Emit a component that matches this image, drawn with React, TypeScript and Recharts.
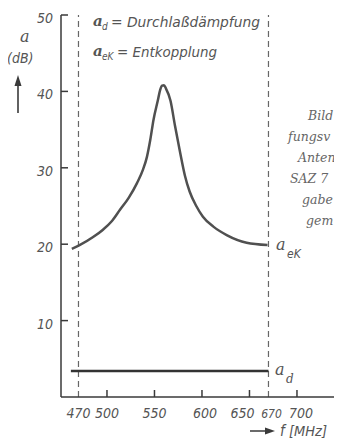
import React from 'react';
import { LineChart, Line, XAxis, YAxis, ReferenceLine } from 'recharts';

// Entkopplung a_eK (dB) over frequency (MHz)
const ekFreq = [463, 471.6, 485, 495.8, 505, 513.7, 523, 531.6, 538, 542, 545.5, 549, 553.5, 556, 558, 560, 562, 566.8, 571.6, 577, 582, 587, 594, 601, 612, 626, 647, 669];
const ekValue = [19.4, 19.9, 20.9, 21.9, 23.0, 24.5, 26.1, 28.0, 29.8, 31.4, 33.6, 36.3, 38.8, 40.2, 40.75, 40.8, 40.4, 38.8, 35.5, 32.0, 29.0, 26.9, 25.0, 23.6, 22.3, 21.2, 20.2, 19.9];

// Durchlaßdämpfung a_d
const dFreq = [462, 670];
const dValue = [3.4, 3.4];

const xTicks = [470, 500, 550, 600, 650, 670, 700];
const yTicks = [10, 20, 30, 40, 50];
const bandEdges = [470, 670];
const xDomain = [451.6, 747.4];
const yDomain = [0, 50];

const captionLines = ['Bild', 'fungsv', 'Anten', 'SAZ 7', 'gabe', 'gem'];

const ekData = ekFreq.map((f, i) => ({ f, v: ekValue[i] }));
const dData = dFreq.map((f, i) => ({ f, v: dValue[i] }));

const SANS = "'DejaVu Sans Condensed','Liberation Sans Narrow','DejaVu Sans',sans-serif";
const SERIF = "'DejaVu Serif','Liberation Serif',serif";
const INK = '#3a3a3a';
const TXT = '#555';

const XTick = (props: any) => {
  const { x, y, payload } = props;
  const v = payload.value;
  const noMark = v === 470 || v === 670;
  const dx = v === 650 ? -7 : v === 700 ? 4 : v === 670 ? 3 : v === 600 ? 3 : 0;
  return (
    <g>
      {!noMark && <line x1={x} x2={x} y1={y} y2={y - 7} stroke={INK} strokeWidth={1.5} />}
      <text
        x={x + dx}
        y={y + 21}
        textAnchor="middle"
        fontFamily={SANS}
        fontStyle="italic"
        fontSize={v === 670 ? 12 : 14}
        fill={TXT}
      >
        {v}
      </text>
    </g>
  );
};

const YTick = (props: any) => {
  const { x, y, payload } = props;
  return (
    <g>
      <line x1={x} x2={x + 7} y1={y} y2={y} stroke={INK} strokeWidth={1.5} />
      <text x={x - 8} y={y + 8} textAnchor="end" fontFamily={SANS} fontStyle="italic" fontSize={14} fill={TXT}>
        {payload.value}
      </text>
    </g>
  );
};

const captionX = [308, 288, 298, 290, 302, 306];

export default function App() {
  return (
    <div style={{ position: 'relative', width: 342, height: 446, margin: -8, background: '#fff', overflow: 'hidden' }}>
      <LineChart width={342} height={446} margin={{ top: 15, right: 0, bottom: 0, left: 0 }}>
        <XAxis
          type="number"
          dataKey="f"
          domain={xDomain}
          allowDataOverflow
          ticks={xTicks}
          interval={0}
          height={49}
          tickSize={0}
          tickMargin={0}
          tickLine={false}
          axisLine={{ stroke: INK, strokeWidth: 1.5 }}
          tick={<XTick />}
        />
        <YAxis
          type="number"
          domain={yDomain}
          ticks={yTicks}
          interval={0}
          width={61}
          tickSize={0}
          tickMargin={0}
          tickLine={false}
          axisLine={{ stroke: INK, strokeWidth: 1.5 }}
          tick={<YTick />}
        />
        {bandEdges.map((e) => (
          <ReferenceLine key={e} x={e} stroke="#666" strokeWidth={1.2} strokeDasharray="6 4" />
        ))}
        <Line
          data={ekData}
          dataKey="v"
          type="monotone"
          stroke="#505050"
          strokeWidth={2.5}
          dot={false}
          isAnimationActive={false}
        />
        <Line
          data={dData}
          dataKey="v"
          type="linear"
          stroke="#333"
          strokeWidth={2.5}
          dot={false}
          isAnimationActive={false}
        />
      </LineChart>
      <svg width={342} height={446} style={{ position: 'absolute', left: 0, top: 0, pointerEvents: 'none' }}>
        {/* axis title */}
        <text x={20} y={42} fontFamily={SERIF} fontStyle="italic" fontSize={16} fill={TXT}>a</text>
        <text x={7} y={63} fontFamily={SANS} fontStyle="italic" fontSize={14} fill={TXT}>(dB)</text>
        <line x1={18} x2={18} y1={113} y2={84} stroke={INK} strokeWidth={1.6} />
        <polygon points="18,75 14.5,86 21.5,86" fill={INK} />
        {/* legend text */}
        <text x={93} y={26} fontFamily={SERIF} fontStyle="italic" fontWeight="bold" fontSize={15} fill={TXT}>a</text>
        <text x={102} y={30} fontFamily={SANS} fontStyle="italic" fontSize={10} fill={TXT}>d</text>
        <text x={111} y={27} fontFamily={SANS} fontStyle="italic" fontSize={14} fill={TXT} textLength={149} lengthAdjust="spacingAndGlyphs">= Durchlaßdämpfung</text>
        <text x={93} y={56} fontFamily={SERIF} fontStyle="italic" fontWeight="bold" fontSize={15} fill={TXT}>a</text>
        <text x={102} y={60} fontFamily={SANS} fontStyle="italic" fontSize={10} fill={TXT}>eK</text>
        <text x={117} y={57} fontFamily={SANS} fontStyle="italic" fontSize={14} fill={TXT} textLength={100} lengthAdjust="spacingAndGlyphs">= Entkopplung</text>
        {/* curve labels */}
        <text x={276} y={250} fontFamily={SERIF} fontStyle="italic" fontSize={16} fill={TXT}>a</text>
        <text x={287} y={258} fontFamily={SANS} fontStyle="italic" fontSize={12} fill={TXT}>eK</text>
        <text x={275} y={375} fontFamily={SERIF} fontStyle="italic" fontSize={16} fill={TXT}>a</text>
        <text x={286} y={383} fontFamily={SERIF} fontStyle="italic" fontSize={12} fill={TXT}>d</text>
        {/* x axis title */}
        <line x1={250} x2={266} y1={431} y2={431} stroke={INK} strokeWidth={1.5} />
        <polygon points="275,431 265,427.5 265,434.5" fill={INK} />
        <text x={280} y={436} fontFamily={SANS} fontStyle="italic" fontSize={15} fill={TXT}>f</text>
        <text x={289} y={436} fontFamily={SANS} fontStyle="italic" fontSize={14} fill={TXT} textLength={38} lengthAdjust="spacingAndGlyphs">[MHz]</text>
        {/* cut-off caption from the page */}
        {captionLines.map((t, i) => (
          <text key={t} x={captionX[i]} y={120 + i * 21} fontFamily={SERIF} fontStyle="italic" fontSize={12.5} fill="#666">{t}</text>
        ))}
      </svg>
    </div>
  );
}
